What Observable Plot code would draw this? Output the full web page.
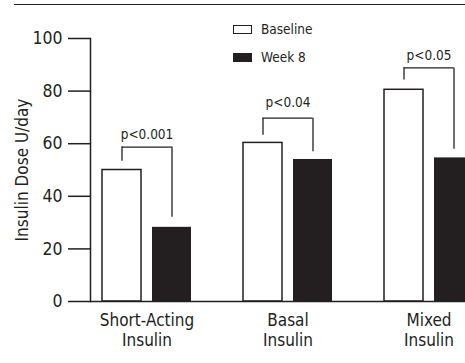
<!DOCTYPE html>
<html><head><meta charset="utf-8">
<script src="https://cdn.jsdelivr.net/npm/d3@7"></script>
<script src="https://cdn.jsdelivr.net/npm/@observablehq/plot@0.6"></script>
<style>
html,body{margin:0;padding:0;background:#fff;}
#wrap{position:relative;width:465px;height:363px;overflow:hidden;font-family:"DejaVu Sans Condensed",sans-serif;color:#231f20;}
#rule{position:absolute;left:14px;top:4px;width:451px;border-top:1.5px solid #231f20;}
.item{position:absolute;left:233px;height:18px;display:flex;align-items:center;font-size:13.5px;}
.box{width:19px;height:9px;box-sizing:border-box;border:1.3px solid #231f20;margin-right:9px;}
#chart{position:absolute;left:0;top:0;}
#chart svg{max-width:none !important;}
</style></head>
<body>
<div id="wrap">
  <div id="rule"></div>
  <div id="chart"></div>
  <div id="legend"></div>
</div>
<script>
const categories = ["Short-Acting\nInsulin", "Basal\nInsulin", "Mixed\nInsulin"];
const seriesNames = ["Baseline", "Week 8"];
const seriesColors = ["#ffffff", "#231f20"];
const baseline = [50, 60.3, 80.5];
const week8 = [28.2, 54, 54.6];
const pLabels = ["p<0.001", "p<0.04", "p<0.05"];
const bracketTop = [58.7, 69.7, 88.8];
const leftLegEnd = [53.3, 63.2, 84.2];
const rightLegEnd = [32, 56.9, 57.9];
const pLabelY = [63.6, 75.6, 93.3];
const yTicks = [0, 20, 40, 60, 80, 100];
const yLabel = "Insulin Dose U/day";

const rows = categories.map((c, i) => ({
  category: c, baseline: baseline[i], week8: week8[i], p: pLabels[i],
  top: bracketTop[i], l: leftLegEnd[i], r: rightLegEnd[i], py: pLabelY[i]
}));
const ink = "#231f20";
const font = '"DejaVu Sans Condensed",sans-serif';

const chart = Plot.plot({
  width: 484, height: 363,
  marginLeft: 90, marginRight: 0, marginTop: 38, marginBottom: 62,
  style: {fontFamily: font, fontSize: "17px", color: ink, background: "transparent", overflow: "visible", maxWidth: "none"},
  x: {domain: categories, paddingInner: 0.371, paddingOuter: 0.0777},
  y: {domain: [0, 100]},
  marks: [
    Plot.axisY({ticks: yTicks, tickSize: 22, tickPadding: 6, strokeWidth: 1.5, fontSize: 17.5, label: null}),
    Plot.frame({anchor: "left", strokeWidth: 1.5}),
    Plot.axisX({tickSize: 0, tickPadding: 10, fontSize: 17, lineHeight: 1.18, label: null}),
    Plot.barY(rows, {x: "category", y: "baseline", fill: seriesColors[0], stroke: ink, strokeWidth: 1.5, insetRight: 50}),
    Plot.barY(rows, {x: "category", y: "week8", fill: seriesColors[1], insetLeft: 50}),
    Plot.ruleY([0], {strokeWidth: 1.5, stroke: ink}),
    Plot.ruleX(rows, {x: "category", y1: "l", y2: "top", dx: -25, strokeWidth: 1.3, stroke: ink}),
    Plot.ruleX(rows, {x: "category", y1: "r", y2: "top", dx: 25, strokeWidth: 1.3, stroke: ink}),
    Plot.tickY(rows, {x: "category", y: "top", insetLeft: 19.5, insetRight: 19.5, strokeWidth: 1.3, stroke: ink}),
    Plot.text(rows, {x: "category", y: "py", text: "p", fontSize: 13.5, fill: ink}),
    Plot.text([yLabel], {frameAnchor: "left", textAnchor: "middle", rotate: -90, dx: -68, fontSize: 17, fill: ink})
  ]
});
document.getElementById("chart").appendChild(chart);

const legend = document.getElementById("legend");
const tops = [20, 48];
seriesNames.forEach((name, i) => {
  const item = document.createElement("div");
  item.className = "item";
  item.style.top = tops[i] + "px";
  const box = document.createElement("div");
  box.className = "box";
  box.style.background = seriesColors[i];
  const label = document.createElement("span");
  label.textContent = name;
  item.appendChild(box);
  item.appendChild(label);
  legend.appendChild(item);
});
</script>
</body></html>
